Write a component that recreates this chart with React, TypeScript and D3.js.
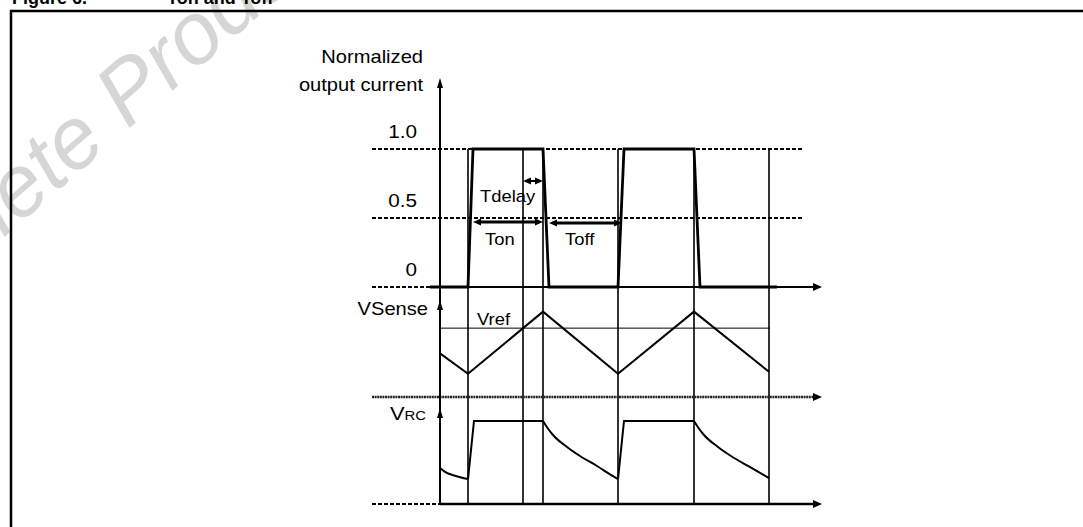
import React from 'react';
import * as d3 from 'd3';

const W = 1083;
const H = 527;
const FONT = '"Liberation Sans", Arial, Helvetica, sans-serif';
const SX = 1.15; // horizontal stretch of the source text

// ---- time axis (arbitrary units, 0 = vertical axis) ----
const guideTimes = [28, 83, 103, 178, 254, 329];

// ---- normalized output current ----
const currentT = [-10, 28, 33, 103, 109, 178, 184, 254, 260, 337];
const currentV = [0, 0, 1, 1, 0, 0, 1, 1, 0, 0];
const currentLevels = [1.0, 0.5];
const currentTickValues = [1.0, 0.5, 0];
const currentTickLabels = ['1.0', '0.5', '0'];

// ---- VSense ----
const vsenseT = [0, 28, 103, 178, 254, 329];
const vsenseV = [0.45, 0.24, 0.88, 0.24, 0.88, 0.26];
const vrefLevel = 0.71;
const vrefEnd = 330;

// ---- VRC segments ----
const vrcDecay0T = [0, 5, 15, 28];
const vrcDecay0V = [0.375, 0.335, 0.295, 0.26];
const vrcOn1T = [28, 34, 103];
const vrcOn1V = [0.26, 0.865, 0.865];
const vrcDecay1T = [103, 107, 113, 127, 140, 157, 173, 178];
const vrcDecay1V = [0.865, 0.8, 0.719, 0.594, 0.5, 0.396, 0.29, 0.26];
const vrcOn2T = [178, 184, 254];
const vrcOn2V = [0.26, 0.865, 0.865];
const vrcDecay2T = [254, 258, 264, 278, 291, 308, 324, 329];
const vrcDecay2V = [0.865, 0.8, 0.719, 0.594, 0.5, 0.396, 0.3, 0.27];

// ---- dimension arrows ----
const tdelaySpan = [83, 103];
const tdelayLevel = 0.768;
const tonSpan = [33, 103];
const tonLevel = 0.471;
const toffSpan = [109, 182];
const toffLevel = 0.464;

const x = d3.scaleLinear().domain([0, 382]).range([440, 822]);
const xLeft = x(-68);
const yCur = d3.scaleLinear().domain([0, 1]).range([287, 149]);
const yVs = d3.scaleLinear().domain([0, 1]).range([397, 300]);
const yRc = d3.scaleLinear().domain([0, 1]).range([504, 408]);

const zip = (t: number[], v: number[]) => t.map((d, i) => [d, v[i]] as [number, number]);

function arrowHead(tx: number, ty: number, dir: 'up' | 'right' | 'left', len = 9, wid = 7) {
  const h = wid / 2;
  if (dir === 'up') return `M${tx},${ty} L${tx - h},${ty + len} L${tx + h},${ty + len} Z`;
  if (dir === 'right') return `M${tx},${ty} L${tx - len},${ty - h} L${tx - len},${ty + h} Z`;
  return `M${tx},${ty} L${tx + len},${ty - h} L${tx + len},${ty + h} Z`;
}

function Label(props: { x: number; y: number; size: number; anchor?: string; weight?: string; children: React.ReactNode }) {
  return (
    <text
      transform={`translate(${props.x},${props.y}) scale(${SX},1)`}
      textAnchor={props.anchor || 'start'}
      fontSize={props.size}
      fontWeight={props.weight || 'normal'}
      fontFamily={FONT}
      fill="#000"
    >
      {props.children}
    </text>
  );
}

function DimArrow({ span, y, sw }: { span: number[]; y: number; sw: number }) {
  const x1 = x(span[0]);
  const x2 = x(span[1]);
  return (
    <g>
      <line x1={x1 + 6} x2={x2 - 6} y1={y} y2={y} stroke="#000" strokeWidth={sw} />
      <path d={arrowHead(x1, y, 'left', 8, 7)} fill="#000" />
      <path d={arrowHead(x2, y, 'right', 8, 7)} fill="#000" />
    </g>
  );
}

export default function App() {
  const lineCur = d3.line<[number, number]>().x(d => x(d[0])).y(d => yCur(d[1]));
  const lineVs = d3.line<[number, number]>().x(d => x(d[0])).y(d => yVs(d[1]));
  const lineRcLin = d3.line<[number, number]>().x(d => x(d[0])).y(d => yRc(d[1]));
  const lineRcSmooth = d3
    .line<[number, number]>()
    .x(d => x(d[0]))
    .y(d => yRc(d[1]))
    .curve(d3.curveMonotoneX);

  const axisX = x(0);
  const axisEnd = x(382);

  return (
    <svg
      width={W}
      height={H}
      style={{ position: 'absolute', left: 0, top: 0, background: '#fff' }}
    >
      <rect x={0} y={0} width={W} height={H} fill="#fff" />

      {/* watermark */}
      <g transform="translate(18,225) rotate(-41)" fill="#d6d6d6" fontFamily={FONT} fontSize={87} fontStyle="italic">
        <text textAnchor="end">Obsol</text>
        <text textAnchor="start">ete Product(s)</text>
      </g>

      {/* title (cropped at top) */}
      <text x={12} y={4} fontFamily={FONT} fontWeight="bold" fontSize={18}>Figure 6.</text>
      <text x={167} y={4} fontFamily={FONT} fontWeight="bold" fontSize={18}>Ton and Toff</text>

      {/* frame */}
      <path d={`M11,${H} L11,11 L${W},11`} fill="none" stroke="#000" strokeWidth={2.5} />

      {/* y-axis labels */}
      <Label x={423} y={63} size={17.5} anchor="end">Normalized</Label>
      <Label x={423} y={91} size={17.5} anchor="end">output current</Label>
      {currentTickValues.map((v, i) => (
        <Label key={i} x={417} y={yCur(v) - 11} size={18} anchor="end">{currentTickLabels[i]}</Label>
      ))}
      <Label x={428} y={315} size={17.5} anchor="end">VSense</Label>
      <g transform={`translate(390,420) scale(${SX},1)`} fontFamily={FONT}>
        <text fontSize={19}>V<tspan fontSize={13}>RC</tspan></text>
      </g>

      {/* dashed level lines */}
      {currentLevels.map((v, i) => (
        <line key={i} x1={xLeft} x2={x(363)} y1={yCur(v)} y2={yCur(v)} stroke="#000" strokeWidth={2} strokeDasharray="4,2" />
      ))}

      {/* vertical guide lines */}
      {guideTimes.map((t, i) => (
        <line key={i} x1={x(t)} x2={x(t)} y1={yCur(1)} y2={yRc(0)} stroke="#000" strokeWidth={1.6} />
      ))}

      {/* horizontal axes */}
      <line x1={xLeft} x2={axisX} y1={yCur(0)} y2={yCur(0)} stroke="#000" strokeWidth={2} strokeDasharray="4,2" />
      <line x1={axisX} x2={axisEnd - 6} y1={yCur(0)} y2={yCur(0)} stroke="#000" strokeWidth={2} />
      <path d={arrowHead(axisEnd, yCur(0), 'right', 9, 8)} fill="#000" />

      <line x1={xLeft} x2={axisEnd - 6} y1={yVs(0)} y2={yVs(0)} stroke="#222" strokeWidth={2.5} strokeDasharray="2,0.6" />
      <path d={arrowHead(axisEnd, yVs(0), 'right', 9, 8)} fill="#000" />

      <line x1={xLeft} x2={axisX} y1={yRc(0)} y2={yRc(0)} stroke="#000" strokeWidth={2} strokeDasharray="4,2" />
      <line x1={axisX} x2={axisEnd - 6} y1={yRc(0)} y2={yRc(0)} stroke="#000" strokeWidth={2.5} />
      <path d={arrowHead(axisEnd, yRc(0), 'right', 9, 8)} fill="#000" />

      {/* vertical axis */}
      <line x1={axisX} x2={axisX} y1={86} y2={yRc(0)} stroke="#000" strokeWidth={2} />
      <path d={arrowHead(axisX, 78, 'up', 10, 6)} fill="#000" />
      <path d={arrowHead(axisX, yVs(1), 'up', 10, 6)} fill="#000" />
      <path d={arrowHead(axisX, yRc(1), 'up', 10, 6)} fill="#000" />

      {/* current waveform */}
      <path d={lineCur(zip(currentT, currentV)) || ''} fill="none" stroke="#000" strokeWidth={2.8} strokeLinejoin="miter" />

      {/* VSense */}
      <line x1={axisX} x2={x(vrefEnd)} y1={yVs(vrefLevel)} y2={yVs(vrefLevel)} stroke="#000" strokeWidth={1} />
      <path d={lineVs(zip(vsenseT, vsenseV)) || ''} fill="none" stroke="#000" strokeWidth={2} />
      <Label x={477} y={325} size={16}>Vref</Label>

      {/* VRC */}
      <path d={lineRcSmooth(zip(vrcDecay0T, vrcDecay0V)) || ''} fill="none" stroke="#000" strokeWidth={2} />
      <path d={lineRcLin(zip(vrcOn1T, vrcOn1V)) || ''} fill="none" stroke="#000" strokeWidth={2} />
      <path d={lineRcSmooth(zip(vrcDecay1T, vrcDecay1V)) || ''} fill="none" stroke="#000" strokeWidth={2} />
      <path d={lineRcLin(zip(vrcOn2T, vrcOn2V)) || ''} fill="none" stroke="#000" strokeWidth={2} />
      <path d={lineRcSmooth(zip(vrcDecay2T, vrcDecay2V)) || ''} fill="none" stroke="#000" strokeWidth={2} />

      {/* dimension arrows */}
      <DimArrow span={tdelaySpan} y={yCur(tdelayLevel)} sw={2} />
      <DimArrow span={tonSpan} y={yCur(tonLevel)} sw={3} />
      <DimArrow span={toffSpan} y={yCur(toffLevel)} sw={3} />
      <Label x={480} y={202} size={16}>Tdelay</Label>
      <Label x={485} y={245} size={16}>Ton</Label>
      <Label x={565} y={245} size={16}>Toff</Label>
    </svg>
  );
}
